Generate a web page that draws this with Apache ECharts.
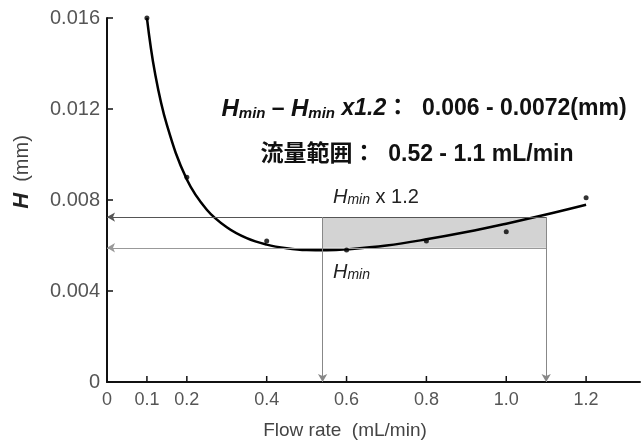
<!DOCTYPE html>
<html><head><meta charset="utf-8">
<script src="https://cdn.jsdelivr.net/npm/echarts@6/dist/echarts.min.js"></script>
<style>html,body{margin:0;padding:0;background:#fff}#c{width:641px;height:441px}</style>
</head><body><div id="c"></div>
<script>
const xTickValues = [0, 0.1, 0.2, 0.4, 0.6, 0.8, 1.0, 1.2];
const xTickLabels = ['0', '0.1', '0.2', '0.4', '0.6', '0.8', '1.0', '1.2'];
const yTickValues = [0, 0.004, 0.008, 0.012, 0.016];
const yTickLabels = ['0', '0.004', '0.008', '0.012', '0.016'];
const measuredX = [0.1, 0.2, 0.4, 0.6, 0.8, 1.0, 1.2];
const measuredH = [0.016, 0.009, 0.0062, 0.0058, 0.0062, 0.0066, 0.0081];
const curveX = [0.1, 0.12, 0.15, 0.2, 0.25, 0.3, 0.35, 0.4, 0.45, 0.5, 0.55, 0.6, 0.7, 0.8, 0.9, 1.0, 1.1, 1.2];
const curveH = [0.0160, 0.0136, 0.0113, 0.0089, 0.00757, 0.00680, 0.00632, 0.00604, 0.00588, 0.0058, 0.00579, 0.00583, 0.0060, 0.00627, 0.00659, 0.00696, 0.00736, 0.00779];
const hMin = 0.0059;
const hMin12 = 0.00725;
const flowLow = 0.54;
const flowHigh = 1.1;

const chart = echarts.init(document.getElementById('c'));
const FONT = '"Liberation Sans", Arial, sans-serif';
const CJK = '"Liberation Sans", "Noto Sans CJK JP", sans-serif';
const labelFor = (vals, labs) => v => {
  for (let i = 0; i < vals.length; i++) if (Math.abs(vals[i] - v) < 1e-9) return labs[i];
  return '';
};

chart.setOption({
  animation: false,
  backgroundColor: '#fff',
  grid: {left: 107, right: 1, top: 18, bottom: 59},
  xAxis: {
    type: 'value', min: 0, max: 1.335, interval: 0.1,
    axisLine: {lineStyle: {color: '#111', width: 2}},
    axisTick: {show: false},
    splitLine: {show: false},
    axisLabel: {formatter: labelFor(xTickValues, xTickLabels), color: '#555', fontSize: 18, fontFamily: FONT, margin: 9, showMaxLabel: false}
  },
  yAxis: {
    type: 'value', min: 0, max: 0.016, interval: 0.004,
    axisLine: {show: true, lineStyle: {color: '#111', width: 2}},
    axisTick: {show: true, inside: true, length: 6, lineStyle: {color: '#111', width: 1.5}},
    splitLine: {show: false},
    axisLabel: {formatter: labelFor(yTickValues, yTickLabels), color: '#555', fontSize: 20, fontFamily: FONT, margin: 7}
  },
  series: [
    {
      type: 'custom', silent: true, clip: false, z: 3,
      data: xTickValues.filter(v => v > 0).map(v => [v]),
      renderItem: (params, api) => {
        const p = api.coord([api.value(0), 0]);
        return {type: 'line', shape: {x1: p[0], y1: p[1], x2: p[0], y2: p[1] - 6}, style: {stroke: '#111', lineWidth: 1.5}};
      }
    },
    {
      type: 'line', silent: true, z: 1,
      data: [],
      markArea: {silent: true, itemStyle: {color: '#d3d3d3'},
        data: [[{coord: [flowLow, hMin]}, {coord: [flowHigh, hMin12]}]]},
      markLine: {
        silent: true, symbol: ['none', 'arrow'], symbolSize: [7, 8],
        label: {show: false},
        lineStyle: {color: '#888', width: 1, type: 'solid'},
        data: [
          [{coord: [flowHigh, hMin12], lineStyle: {color: '#555'}}, {coord: [0, hMin12]}],
          [{coord: [flowHigh, hMin], lineStyle: {color: '#999'}}, {coord: [0, hMin]}],
          [{coord: [flowLow, hMin12]}, {coord: [flowLow, 0]}],
          [{coord: [flowHigh, hMin12]}, {coord: [flowHigh, 0]}]
        ]
      }
    },
    {
      type: 'line', smooth: 0.4, showSymbol: false, silent: true, z: 4,
      lineStyle: {color: '#000', width: 2.5},
      data: curveX.map((x, i) => [x, curveH[i]])
    },
    {
      type: 'scatter', silent: true, z: 5, symbolSize: 5,
      itemStyle: {color: '#000'},
      data: measuredX.map((x, i) => [x, measuredH[i]])
    }
  ],
  graphic: [
    {type: 'text', x: 424, y: 109, style: {
      text: '{h|H}{s|min}{t| – }{h|H}{s|min}{t| }{x|x1.2}{t|：  0.006 - 0.0072(mm)}',
      align: 'center', verticalAlign: 'middle',
      rich: {
        h: {fontSize: 24, fontStyle: 'italic', fontWeight: 'bold', fontFamily: FONT, fill: '#111'},
        s: {fontSize: 15, fontStyle: 'italic', fontWeight: 'bold', fontFamily: FONT, fill: '#111', verticalAlign: 'bottom'},
        x: {fontSize: 23, fontStyle: 'italic', fontWeight: 'bold', fontFamily: FONT, fill: '#111'},
        t: {fontSize: 23, fontWeight: 'bold', fontFamily: CJK, fill: '#111'}
      }
    }},
    {type: 'text', x: 417, y: 155, style: {
      text: '流量範囲：  0.52 - 1.1 mL/min',
      align: 'center', verticalAlign: 'middle',
      font: 'bold 23px ' + CJK, fill: '#111'
    }},
    {type: 'text', x: 333, y: 197, style: {
      text: '{h|H}{s|min}{t| x 1.2}', verticalAlign: 'middle',
      rich: {
        h: {fontSize: 20, fontStyle: 'italic', fontFamily: FONT, fill: '#222'},
        s: {fontSize: 14, fontStyle: 'italic', fontFamily: FONT, fill: '#222', verticalAlign: 'bottom'},
        t: {fontSize: 20, fontFamily: FONT, fill: '#222'}
      }
    }},
    {type: 'text', x: 333, y: 272, style: {
      text: '{h|H}{s|min}', verticalAlign: 'middle',
      rich: {
        h: {fontSize: 20, fontStyle: 'italic', fontFamily: FONT, fill: '#222'},
        s: {fontSize: 14, fontStyle: 'italic', fontFamily: FONT, fill: '#222', verticalAlign: 'bottom'}
      }
    }},
    {type: 'text', x: 345, y: 431, style: {
      text: 'Flow rate  (mL/min)', font: '19px ' + FONT, fill: '#444', align: 'center', verticalAlign: 'middle'
    }},
    {type: 'text', x: 22, y: 172, rotation: Math.PI / 2, style: {
      text: '{h|H}{t|  (mm)}', align: 'center', verticalAlign: 'middle',
      rich: {
        h: {fontSize: 22, fontStyle: 'italic', fontWeight: 'bold', fontFamily: FONT, fill: '#222'},
        t: {fontSize: 20, fontFamily: FONT, fill: '#444'}
      }
    }}
  ]
});
</script></body></html>
